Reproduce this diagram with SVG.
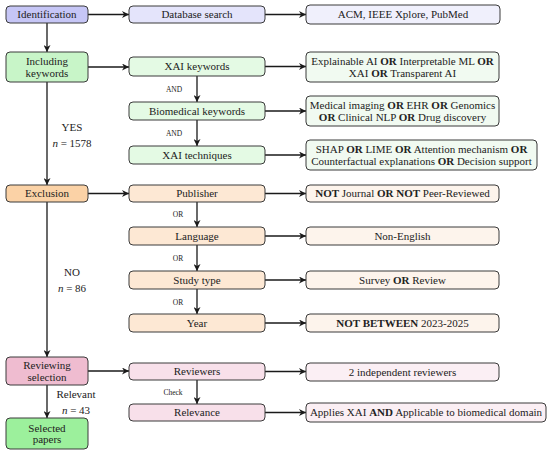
<svg xmlns="http://www.w3.org/2000/svg" width="550" height="454" viewBox="0 0 550 454" font-family="'Liberation Serif', 'DejaVu Serif', serif">
<style>
text{font-family:'Liberation Serif','DejaVu Serif',serif;font-size:11px;fill:#222;text-anchor:middle}
.s{font-size:7.5px}
.b{font-weight:bold}
.i{font-style:italic}
rect{stroke:#3a3a3a;stroke-width:1}
.c1{fill:#c6c6f6}.c1m{fill:#e4e4fb}.c1r{fill:#f0f0fc}
.c2{fill:#c8f5c8}.c2m{fill:#e4fae4}.c2r{fill:#f1faf1}
.c3{fill:#fbd2a6}.c3m{fill:#fde8d4}.c3r{fill:#fdf4ec}
.c4{fill:#efbcd0}.c4m{fill:#f8e0ea}.c4r{fill:#fbeff4}
.c5{fill:#9cf09c}
.e line{stroke:#1a1a1a;stroke-width:1.3;fill:none}
</style>
<defs>
<marker id="a" viewBox="0 0 10 10" refX="10" refY="5" markerWidth="7" markerHeight="7" markerUnits="userSpaceOnUse" orient="auto">
<path d="M0,0 L10,5 L0,10 L3,5 z" fill="#1a1a1a"/>
</marker>
</defs>
<g id="connectors" class="e">
<line x1="47" y1="23" x2="47" y2="52" marker-end="url(#a)"/>
<line x1="47" y1="82" x2="47" y2="185" marker-end="url(#a)"/>
<line x1="47" y1="202" x2="47" y2="357" marker-end="url(#a)"/>
<line x1="47" y1="385" x2="47" y2="418" marker-end="url(#a)"/>
<line x1="88" y1="14.5" x2="129" y2="14.5" marker-end="url(#a)"/>
<line x1="88" y1="67" x2="129" y2="67" marker-end="url(#a)"/>
<line x1="88" y1="193.5" x2="129" y2="193.5" marker-end="url(#a)"/>
<line x1="88" y1="371" x2="129" y2="371" marker-end="url(#a)"/>
<line x1="265" y1="14.5" x2="306" y2="14.5" marker-end="url(#a)"/>
<line x1="265" y1="66.5" x2="306" y2="66.5" marker-end="url(#a)"/>
<line x1="265" y1="111" x2="306" y2="111" marker-end="url(#a)"/>
<line x1="265" y1="155" x2="306" y2="155" marker-end="url(#a)"/>
<line x1="265" y1="193.5" x2="306" y2="193.5" marker-end="url(#a)"/>
<line x1="265" y1="236" x2="306" y2="236" marker-end="url(#a)"/>
<line x1="265" y1="280" x2="306" y2="280" marker-end="url(#a)"/>
<line x1="265" y1="323" x2="306" y2="323" marker-end="url(#a)"/>
<line x1="265" y1="371.5" x2="306" y2="371.5" marker-end="url(#a)"/>
<line x1="265" y1="412.5" x2="306" y2="412.5" marker-end="url(#a)"/>
<line x1="197" y1="76" x2="197" y2="102" marker-end="url(#a)"/>
<line x1="197" y1="120" x2="197" y2="146" marker-end="url(#a)"/>
<line x1="197" y1="202" x2="197" y2="227" marker-end="url(#a)"/>
<line x1="197" y1="245" x2="197" y2="271" marker-end="url(#a)"/>
<line x1="197" y1="289" x2="197" y2="314" marker-end="url(#a)"/>
<line x1="197" y1="380" x2="197" y2="404" marker-end="url(#a)"/>
</g>
<g id="labels">
<text x="72" y="131">YES</text>
<text x="72" y="147"><tspan class="i">n</tspan> = 1578</text>
<text x="72" y="276">NO</text>
<text x="72" y="292"><tspan class="i">n</tspan> = 86</text>
<text x="76" y="398">Relevant</text>
<text x="76" y="414"><tspan class="i">n</tspan> = 43</text>
<text class="s" x="174" y="92">AND</text>
<text class="s" x="174" y="136">AND</text>
<text class="s" x="178" y="217">OR</text>
<text class="s" x="178" y="261">OR</text>
<text class="s" x="178" y="305">OR</text>
<text class="s" x="173" y="395">Check</text>
</g>
<g id="identification"><rect class="c1" x="6" y="6" width="82" height="17" rx="4"/><text x="47" y="18.3">Identification</text></g>
<g id="including"><rect class="c2" x="6" y="52" width="82" height="30" rx="4"/><text x="47" y="65">Including</text><text x="47" y="76.5">keywords</text></g>
<g id="exclusion"><rect class="c3" x="6" y="185" width="82" height="17" rx="4"/><text x="47" y="197.3">Exclusion</text></g>
<g id="reviewing"><rect class="c4" x="6" y="357" width="82" height="28" rx="4"/><text x="47" y="369">Reviewing</text><text x="47" y="380.5">selection</text></g>
<g id="selected"><rect class="c5" x="6" y="418" width="82" height="31" rx="4"/><text x="47" y="431.5">Selected</text><text x="47" y="443">papers</text></g>

<g id="database"><rect class="c1m" x="129" y="6" width="136" height="17" rx="4"/><text x="197" y="18.3">Database search</text></g>
<g id="xaikeywords"><rect class="c2m" x="129" y="57" width="136" height="19" rx="4"/><text x="197" y="70.3">XAI keywords</text></g>
<g id="biomedical"><rect class="c2m" x="129" y="102" width="136" height="18" rx="4"/><text x="197" y="114.8">Biomedical keywords</text></g>
<g id="techniques"><rect class="c2m" x="129" y="146" width="136" height="18" rx="4"/><text x="197" y="158.8">XAI techniques</text></g>
<g id="publisher"><rect class="c3m" x="129" y="185" width="136" height="17" rx="4"/><text x="197" y="197.3">Publisher</text></g>
<g id="language"><rect class="c3m" x="129" y="227" width="136" height="18" rx="4"/><text x="197" y="239.8">Language</text></g>
<g id="studytype"><rect class="c3m" x="129" y="271" width="136" height="18" rx="4"/><text x="197" y="283.8">Study type</text></g>
<g id="year"><rect class="c3m" x="129" y="314" width="136" height="18" rx="4"/><text x="197" y="326.8">Year</text></g>
<g id="reviewers"><rect class="c4m" x="129" y="363" width="136" height="17" rx="4"/><text x="197" y="375.3">Reviewers</text></g>
<g id="relevance"><rect class="c4m" x="129" y="404" width="136" height="17" rx="4"/><text x="197" y="416.3">Relevance</text></g>

<g id="sources"><rect class="c1r" x="306" y="5" width="194" height="19" rx="4"/><text x="403" y="18.3">ACM, IEEE Xplore, PubMed</text></g>
<g id="xaiterms"><rect class="c2r" x="306" y="52" width="193" height="30" rx="4"/><text x="402.5" y="65">Explainable AI <tspan class="b">OR</tspan> Interpretable ML <tspan class="b">OR</tspan></text><text x="402.5" y="76.5">XAI <tspan class="b">OR</tspan> Transparent AI</text></g>
<g id="bioterms"><rect class="c2r" x="306" y="96" width="193" height="30" rx="4"/><text x="402.5" y="109">Medical imaging <tspan class="b">OR</tspan> EHR <tspan class="b">OR</tspan> Genomics</text><text x="402.5" y="120.5"><tspan class="b">OR</tspan> Clinical NLP <tspan class="b">OR</tspan> Drug discovery</text></g>
<g id="techterms"><rect class="c2r" x="306" y="140" width="231" height="30" rx="4"/><text x="421.5" y="153">SHAP <tspan class="b">OR</tspan> LIME <tspan class="b">OR</tspan> Attention mechanism <tspan class="b">OR</tspan></text><text x="421.5" y="164.5">Counterfactual explanations <tspan class="b">OR</tspan> Decision support</text></g>
<g id="notjournal"><rect class="c3r" x="306" y="185" width="193" height="17" rx="4"/><text x="402.5" y="197.3"><tspan class="b">NOT</tspan> Journal <tspan class="b">OR NOT</tspan> Peer-Reviewed</text></g>
<g id="nonenglish"><rect class="c3r" x="306" y="227" width="193" height="18" rx="4"/><text x="402.5" y="239.8">Non-English</text></g>
<g id="survey"><rect class="c3r" x="306" y="271" width="193" height="18" rx="4"/><text x="402.5" y="283.8">Survey <tspan class="b">OR</tspan> Review</text></g>
<g id="notbetween"><rect class="c3r" x="306" y="314" width="193" height="18" rx="4"/><text x="402.5" y="326.8"><tspan class="b">NOT BETWEEN</tspan> 2023-2025</text></g>
<g id="independent"><rect class="c4r" x="306" y="363" width="193" height="18" rx="4"/><text x="402.5" y="375.8">2 independent reviewers</text></g>
<g id="applies"><rect class="c4r" x="306" y="403" width="240" height="19" rx="4"/><text x="426" y="416.3">Applies XAI <tspan class="b">AND</tspan> Applicable to biomedical domain</text></g>
</svg>
